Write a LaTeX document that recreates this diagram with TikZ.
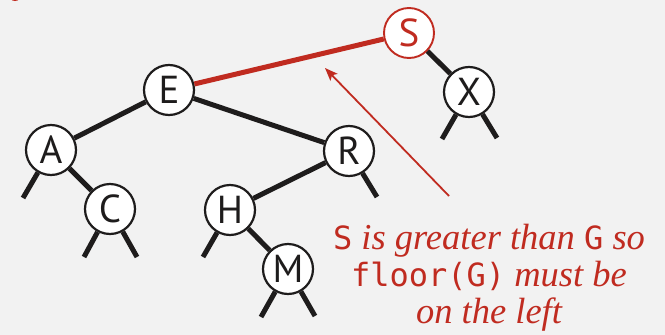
\documentclass[tikz,border=0pt]{standalone}
\usepackage{fontspec}
\setmainfont{Liberation Serif}
\newfontfamily\nodefont{PT Sans}
\newfontfamily\keyfont{DejaVu Sans Mono}
\usetikzlibrary{arrows.meta}
\definecolor{bg}{RGB}{242,242,242}
\definecolor{bstred}{RGB}{192,43,32}
\definecolor{ink}{RGB}{30,28,28}
\tikzset{
  bstnode/.style={circle, draw=ink, line width=2.2pt, fill=white, minimum size=50pt, inner sep=0pt,
    font=\nodefont\fontsize{39}{39}\selectfont, text=ink},
  hotnode/.style={bstnode, draw=bstred, line width=1.9pt, text=bstred},
  link/.style={draw=ink, line width=5pt},
  hotlink/.style={draw=bstred, line width=5pt},
  note/.style={text=bstred, align=center, font=\fontsize{36.5}{37}\selectfont\itshape},
  pointer/.style={draw=bstred, line width=1.8pt, -{Stealth[length=13pt,width=10pt,inset=3pt]}}
}
\newcommand{\keyword}[1]{{\upshape\keyfont\fontsize{32}{37}\selectfont #1}}
\begin{document}
\begin{tikzpicture}[x=1pt,y=-1pt]
\fill[bg] (0,0) rectangle (665,335);
\useasboundingbox (0,0) rectangle (665,335);
% fragment at the top left edge
\fill[bstred] (15,-5) ellipse [x radius=6, y radius=6];

\node[hotnode] (S) at (409,33) {S};
\node[bstnode] (E) at (169,90) {E};
\node[bstnode] (X) at (469,92) {X};
\node[bstnode] (A) at (51,150) {A};
\node[bstnode] (R) at (349,151) {R};
\node[bstnode] (C) at (110,209) {C};
\node[bstnode] (H) at (230,210) {H};
\node[bstnode] (M) at (288,269) {M};

\coordinate (al) at (23,198);
\coordinate (cl) at (84,257);
\coordinate (cr) at (137,257);
\coordinate (hl) at (203,257);
\coordinate (ml) at (261,317);
\coordinate (mr) at (315,316);
\coordinate (rr) at (377,197);
\coordinate (xl) at (442,139);
\coordinate (xr) at (497,138);

\draw[hotlink] (S) -- (E);
\draw[link] (S) -- (X);
\draw[link] (E) -- (A);
\draw[link] (E) -- (R);
\draw[link] (A) -- (C);
\draw[link] (R) -- (H);
\draw[link] (H) -- (M);
\draw[link] (A) -- (al);
\draw[link] (C) -- (cl);
\draw[link] (C) -- (cr);
\draw[link] (H) -- (hl);
\draw[link] (M) -- (ml);
\draw[link] (M) -- (mr);
\draw[link] (R) -- (rr);
\draw[link] (X) -- (xl);
\draw[link] (X) -- (xr);

\node[note, anchor=north] (txt) at (489,221)
  {\keyword{S} is greater than \keyword{G} so\\
   \keyword{floor(G)} must be\\
   on the left};
\coordinate (tail) at (449,196);
\coordinate (tip) at (325,68);
\draw[pointer] (tail) -- (tip);
\end{tikzpicture}
\end{document}
